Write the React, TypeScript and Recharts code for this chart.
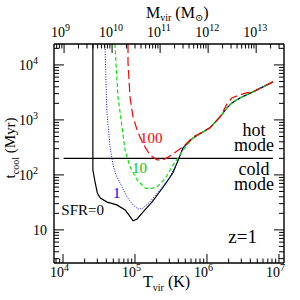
import { LineChart, Line, XAxis, YAxis, ReferenceLine } from 'recharts'

// virial temperature T (K) vs cooling time t (Myr)
const sfr0T = [2.6e4, 2.6e4, 2.8e4, 3.0e4, 3.3e4, 4.1e4, 5.6e4, 7.3e4, 8.8e4, 9.4e4, 1.07e5, 1.29e5, 1.72e5, 2.37e5, 2.78e5, 3.37e5, 3.95e5, 4.65e5, 6.4e5, 8.8e5, 1.1e6, 1.52e6, 1.9e6, 2.22e6, 2.87e6, 4.35e6, 8.26e6]
const sfr0t = [24000, 123, 72, 47, 38, 32, 28.5, 23, 16.5, 14.6, 15.8, 21, 32, 56, 75, 109, 180, 310, 470, 605, 716, 1135, 1650, 2040, 2510, 3230, 4910]

const sfr1T = [3.83e4, 3.95e4, 4.08e4, 4.5e4, 4.95e4, 5.44e4, 6.6e4, 7.74e4, 9.38e4, 1.1e5, 1.25e5, 1.61e5, 2.22e5, 3.06e5, 3.95e5, 4.65e5, 6.4e5, 8.8e5, 1.1e6, 1.52e6, 1.9e6, 2.22e6, 2.87e6, 4.35e6, 8.26e6]
const sfr1t = [24000, 5330, 1340, 323, 152, 100, 60.5, 39.8, 28.5, 24.1, 24.1, 32.3, 53.3, 92, 180, 310, 470, 605, 716, 1135, 1650, 2040, 2510, 3230, 4910]

const sfr10T = [5.27e4, 5.44e4, 5.81e4, 6.6e4, 7.27e4, 8.53e4, 1.07e5, 1.38e5, 1.61e5, 2.02e5, 2.61e5, 3.37e5, 4.22e5, 5.27e5, 6.4e5, 8.8e5, 1.1e6, 1.52e6, 1.9e6, 2.22e6, 2.87e6, 4.35e6, 8.26e6]
const sfr10t = [24000, 10900, 2620, 746, 285, 140, 81, 58, 55.6, 60.5, 84.6, 152, 231, 351, 470, 605, 716, 1135, 1650, 2040, 2510, 3230, 4910]

const sfr100T = [8.0e4, 8.0e4, 8.53e4, 9.38e4, 1.07e5, 1.17e5, 1.38e5, 1.61e5, 2.02e5, 2.45e5, 2.78e5, 3.37e5, 4.65e5, 6.4e5, 8.8e5, 1.1e6, 1.52e6, 1.9e6, 2.22e6, 2.87e6, 3.5e6, 4.35e6, 8.26e6]
const sfr100t = [24000, 10900, 2620, 1135, 658, 491, 323, 231, 187, 187, 204, 241, 323, 491, 605, 716, 1135, 1955, 2510, 2850, 3090, 3230, 4910]

// hot / cold mode divide
const divideT = [1.02e4, 8.26e6]
const dividet = 200

const tDomain = [7500, 1.175e7]
const mDomain = [6.17e8, 3.8e13]
const yDomain = [2.5, 24000]

const tDecades = [1e3, 1e4, 1e5, 1e6, 1e7]
const mDecades = [1e8, 1e9, 1e10, 1e11, 1e12, 1e13]
const yDecades = [1, 10, 100, 1000, 1e4]
const minorSteps = [1, 2, 3, 4, 5, 6, 7, 8, 9]

const serif = '"Liberation Serif", "DejaVu Serif", serif'

const toRows = (xs: number[], ys: number[]) => xs.map((T, i) => ({ T, t: ys[i] }))

const logTicks = (decades: number[], dom: number[]) => {
  const out: number[] = []
  decades.forEach(d => minorSteps.forEach(m => {
    const v = d * m
    if (v >= dom[0] && v <= dom[1]) out.push(v)
  }))
  return out
}

const isDecade = (v: number) => {
  const l = Math.log10(v)
  return Math.abs(l - Math.round(l)) < 1e-6
}
const expOf = (v: number) => Math.round(Math.log10(v))

function Pow({ x, y, v }: { x: number; y: number; v: number }) {
  return (
    <g fontFamily={serif} fill="#000">
      <text x={x} y={y} fontSize={14} textAnchor="end">10</text>
      <text x={x} y={y - 6} fontSize={10}>{expOf(v)}</text>
    </g>
  )
}

// axes are 1px thick so the axis line sits on the plot edge
function BottomTick({ x, payload }: any) {
  const major = isDecade(payload.value)
  const y = 263
  return (
    <g>
      <line x1={x} x2={x} y1={y} y2={y - (major ? 9 : 4.5)} stroke="#000" />
      {major && <Pow x={x + 1} y={y + 14} v={payload.value} />}
    </g>
  )
}

function TopTick({ x, payload }: any) {
  const major = isDecade(payload.value)
  const y = 44
  return (
    <g>
      <line x1={x} x2={x} y1={y} y2={y + (major ? 9 : 4.5)} stroke="#000" />
      {major && <Pow x={x + 1} y={y - 7} v={payload.value} />}
    </g>
  )
}

function LeftTick({ y, payload }: any) {
  const v = payload.value
  const major = isDecade(v)
  const x = 54
  return (
    <g>
      <line x1={x} x2={x + (major ? 10 : 5)} y1={y} y2={y} stroke="#000" />
      {major && expOf(v) === 1 && (
        <text x={x - 7} y={y + 5} fontSize={14} fontFamily={serif} textAnchor="end">10</text>
      )}
      {major && expOf(v) > 1 && <Pow x={x - 21} y={y + 5} v={v} />}
    </g>
  )
}

function RightTick({ y, payload }: any) {
  const major = isDecade(payload.value)
  const x = 284
  return <line x1={x} x2={x - (major ? 10 : 5)} y1={y} y2={y} stroke="#000" />
}

export default function App() {
  const frame = { stroke: '#000', strokeWidth: 1.4 }
  return (
    <div style={{ position: 'absolute', left: 0, top: 0, width: 300, height: 300, background: '#fff' }}>
      <LineChart width={300} height={300} margin={{ top: 43, right: 15, bottom: 36, left: 53 }}>
        <XAxis xAxisId="T" dataKey="T" type="number" scale="log" domain={tDomain} allowDataOverflow
          ticks={logTicks(tDecades, tDomain)} interval={0} tick={<BottomTick />} tickLine={false}
          tickSize={0} tickMargin={0} height={1} axisLine={frame} />
        <XAxis xAxisId="M" dataKey="T" orientation="top" type="number" scale="log" domain={mDomain} allowDataOverflow
          ticks={logTicks(mDecades, mDomain)} interval={0} tick={<TopTick />} tickLine={false}
          tickSize={0} tickMargin={0} height={1} axisLine={frame} />
        <YAxis yAxisId="L" dataKey="t" type="number" scale="log" domain={yDomain} allowDataOverflow
          ticks={logTicks(yDecades, yDomain)} interval={0} tick={<LeftTick />} tickLine={false}
          tickSize={0} tickMargin={0} width={1} axisLine={frame} />
        <YAxis yAxisId="R" dataKey="t" orientation="right" type="number" scale="log" domain={yDomain} allowDataOverflow
          ticks={logTicks(yDecades, yDomain)} interval={0} tick={<RightTick />} tickLine={false}
          tickSize={0} tickMargin={0} width={1} axisLine={frame} />

        {/* keeps the mass axis and right axis alive */}
        <Line xAxisId="M" yAxisId="R" data={toRows(mDomain, [100, 100])} dataKey="t" stroke="none"
          dot={false} activeDot={false} isAnimationActive={false} />

        <ReferenceLine xAxisId="T" yAxisId="L" stroke="#000" strokeWidth={1.3}
          segment={[{ x: divideT[0], y: dividet }, { x: divideT[1], y: dividet }]} />

        <Line xAxisId="T" yAxisId="L" data={toRows(sfr0T, sfr0t)} dataKey="t" type="linear"
          stroke="#000" strokeWidth={1.2} dot={false} activeDot={false} isAnimationActive={false} />
        <Line xAxisId="T" yAxisId="L" data={toRows(sfr1T, sfr1t)} dataKey="t" type="linear"
          stroke="#0000ff" strokeWidth={1} strokeDasharray="1 1.5" dot={false} activeDot={false} isAnimationActive={false} />
        <Line xAxisId="T" yAxisId="L" data={toRows(sfr10T, sfr10t)} dataKey="t" type="linear"
          stroke="#00ee00" strokeWidth={1.2} strokeDasharray="4 2.5" dot={false} activeDot={false} isAnimationActive={false} />
        <Line xAxisId="T" yAxisId="L" data={toRows(sfr100T, sfr100t)} dataKey="t" type="linear"
          stroke="#ff0000" strokeWidth={1.2} strokeDasharray="9 4" dot={false} activeDot={false} isAnimationActive={false} />
      </LineChart>

      <svg width={300} height={300} style={{ position: 'absolute', left: 0, top: 0, pointerEvents: 'none' }}
        fontFamily={serif}>
        <text x={146} y={18} fontSize={16}>
          M<tspan dy={3} fontSize={10}>vir</tspan><tspan dy={-3}>{'  (M'}</tspan><tspan dy={3} fontSize={10}>⊙</tspan><tspan dy={-3}>)</tspan>
        </text>
        <text x={143} y={287} fontSize={16}>
          T<tspan dy={4} fontSize={10}>vir</tspan><tspan dy={-4}>{'  (K)'}</tspan>
        </text>
        <text transform="translate(15,148) rotate(-90)" fontSize={15} textAnchor="middle">
          t<tspan dy={4} fontSize={10}>cool</tspan><tspan dy={-4}>{' (Myr)'}</tspan>
        </text>

        <text x={104} y={215} fontSize={15} textAnchor="end">SFR=0</text>
        <text x={113} y={198} fontSize={15} fill="#0000ff">1</text>
        <text x={132} y={173} fontSize={15} fill="#00cc00">10</text>
        <text x={140} y={143} fontSize={15} fill="#ff0000">100</text>

        <text x={254} y={136} fontSize={18} textAnchor="middle">hot</text>
        <text x={254} y={151} fontSize={18} textAnchor="middle">mode</text>
        <text x={254} y={175} fontSize={18} textAnchor="middle">cold</text>
        <text x={254} y={190} fontSize={18} textAnchor="middle">mode</text>

        <text x={257} y={243} fontSize={19} textAnchor="end">z=1</text>
      </svg>
    </div>
  )
}
